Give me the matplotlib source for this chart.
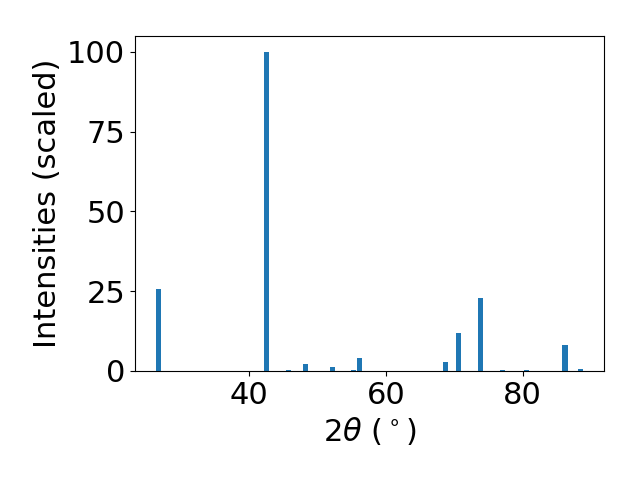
import matplotlib
matplotlib.use('Agg')
import matplotlib.pyplot as plt
import numpy as np

# peak positions (2theta, degrees) and scaled intensities
two_theta = [26.87, 42.6, 45.74, 48.23, 52.26, 55.34, 56.15, 68.67,
             70.65, 73.87, 77.1, 80.6, 86.18, 88.38]
intensity = [25.7, 100.0, 0.3, 2.2, 1.25, 0.4, 4.1, 2.8,
             11.9, 22.9, 0.3, 0.3, 8.1, 0.7]

plt.rcParams['font.size'] = 22

fig, ax = plt.subplots(figsize=(6.4, 4.8), dpi=100)
fig.subplots_adjust(left=135/640, right=604/640, bottom=109/480, top=444/480)

ax.bar(two_theta, intensity, width=0.75, color='#1f77b4')
ax.set_xticks([40, 60, 80])
ax.set_yticks([0, 25, 50, 75, 100])
ax.set_xlabel(r'$2\theta$ ($^\circ$)')
ax.set_ylabel('Intensities (scaled)')

fig.savefig('out.png', dpi=100)
